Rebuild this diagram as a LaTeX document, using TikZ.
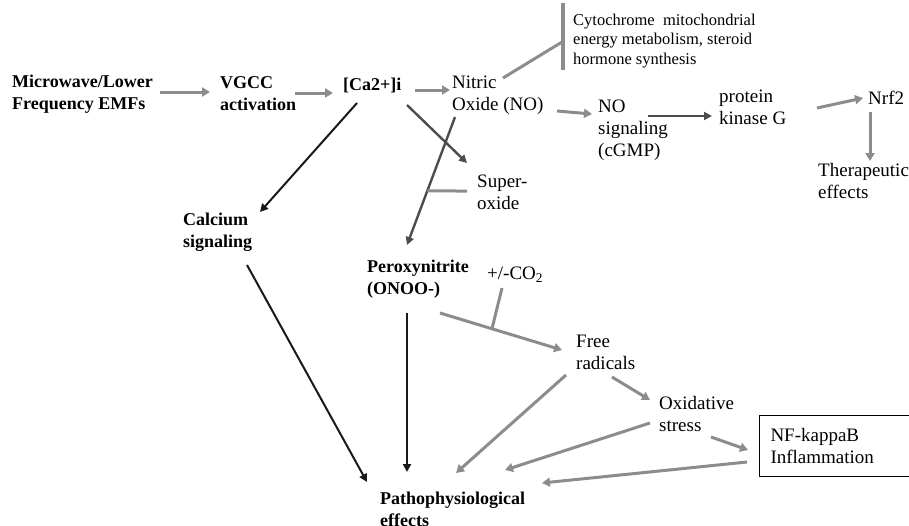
\documentclass[tikz,border=0pt]{standalone}
\usepackage{fontspec}
\setmainfont{Liberation Serif}
\usetikzlibrary{arrows.meta,calc}
\begin{document}
\begin{tikzpicture}[x=1pt,y=1pt]
\tikzset{
 bt/.style={font=\fontsize{18}{22}\selectfont\bfseries, align=left, inner sep=0pt, anchor=west},
 rt/.style={font=\fontsize{19}{22}\selectfont, align=left, inner sep=0pt, anchor=west},
 st/.style={font=\fontsize{16.5}{19.5}\selectfont, align=left, inner sep=0pt, anchor=west},
 la/.style={draw=black!45, line width=3pt, -{Triangle[length=8pt,width=9pt]}},
 ma/.style={draw=black!70, line width=2.4pt, -{Triangle[length=8pt,width=8pt]}},
 da/.style={draw=black!90, line width=2pt, -{Triangle[length=8pt,width=8pt]}},
 ll/.style={draw=black!45, line width=3pt},
 boxed/.style={draw, line width=1pt, inner xsep=11pt, inner ysep=0pt, minimum height=61pt, text width=140pt}
}
\useasboundingbox (0,0) rectangle (909,-525);
% nodes
\node[bt] (mw) at (12,-94) {Microwave/Lower\\Frequency EMFs};
\node[bt] (vgcc) at (220,-94) {VGCC\\activation};
\node[bt] (ca) at (343,-85) {[Ca2+]i};
\node[rt] (no) at (452,-95) {Nitric\\Oxide (NO)};
\node[st] (cyto) at (573,-41) {Cytochrome\ \ mitochondrial\\energy metabolism, steroid\\hormone synthesis};
\node[rt] (nosig) at (598,-130) {NO\\signaling\\(cGMP)};
\node[rt] (pkg) at (719,-107) {protein\\kinase G};
\node[rt] (nrf) at (868,-98) {Nrf2};
\node[rt] (ther) at (818,-181) {Therapeutic\\effects};
\node[bt] (calc) at (183,-232) {Calcium\\signaling};
\node[rt] (sup) at (477,-192) {Super-\\oxide};
\node[bt] (onoo) at (367,-279) {Peroxynitrite\\(ONOO-)};
\node[rt] (co2) at (487,-275) {+/-CO\textsubscript{2}};
\node[rt] (free) at (576,-352) {Free\\radicals};
\node[rt] (ox) at (659,-414) {Oxidative\\stress};
\node[rt, boxed] (nf) at (759,-445.5) {NF-kappaB\\Inflammation};
\node[bt] (path) at (380,-509) {Pathophysiological\\effects};
% top row
\draw[la] ([shift={(148,2)}]mw.west) -- ([shift={(-10,2)}]vgcc.west);
\draw[la] ([shift={(75,1)}]vgcc.west) -- ([shift={(-10,-8)}]ca.west);
\draw[la] ([shift={(72,-5)}]ca.west) -- ([shift={(-2,5)}]no.west);
% inhibition of cytochrome
\draw[ll] ([shift={(51,17)}]no.west) -- ([shift={(-11,-1)}]cyto.west);
\draw[draw=black!45, line width=3.5pt] ([shift={(-10,38)}]cyto.west) -- ([shift={(-10,-29)}]cyto.west);
% NO branch
\draw[la] ([shift={(105,-16)}]no.west) -- ([shift={(-6,16)}]nosig.west);
\draw[ma] ([shift={(50,14)}]nosig.west) -- ([shift={(-7,-9)}]pkg.west);
\draw[la] ([shift={(98,-1)}]pkg.west) -- ([shift={(-5,0)}]nrf.west);
\draw[la] ([shift={(2,-14)}]nrf.west) -- ([shift={(52,20)}]ther.west);
% calcium
\draw[da] ([shift={(14,-18)}]ca.west) -- ([shift={(77,20)}]calc.west);
\draw[ma] ([shift={(64,-20)}]ca.west) -- ([shift={(-10,29)}]sup.west);
% NO -> peroxynitrite with superoxide joining
\coordinate (n1) at ([shift={(3,-22)}]no.west);
\coordinate (n2) at ([shift={(40,34)}]onoo.west);
\draw[ma] (n1) -- (n2);
\draw[ll] ([shift={(-10,1)}]sup.west) -- ($(n1)!0.578!(n2)$);
% to pathophysiological effects
\draw[da] ([shift={(64,-33)}]calc.west) -- ([shift={(-13,27)}]path.west);
\draw[da] ([shift={(40,-34)}]onoo.west) -- ([shift={(27,37)}]path.west);
% peroxynitrite -> free radicals with CO2
\coordinate (of1) at ([shift={(73,-34)}]onoo.west);
\coordinate (of2) at ([shift={(-14,2)}]free.west);
\draw[la] (of1) -- (of2);
\draw[ll] ([shift={(15,-13)}]co2.west) -- ($(of1)!0.426!(of2)$);
\draw[la] ([shift={(-10,-23)}]free.west) -- ([shift={(76,36)}]path.west);
\draw[la] ([shift={(36,-25)}]free.west) -- ([shift={(-9,14)}]ox.west);
\draw[la] ([shift={(-9,-9)}]ox.west) -- ([shift={(125,39)}]path.west);
\draw[la] ([shift={(52,-23)}]ox.west) -- ([shift={(-11,-4.5)}]nf.west);
\draw[la] ([shift={(-12,-16.5)}]nf.west) -- ([shift={(162,26)}]path.west);
\end{tikzpicture}
\end{document}
